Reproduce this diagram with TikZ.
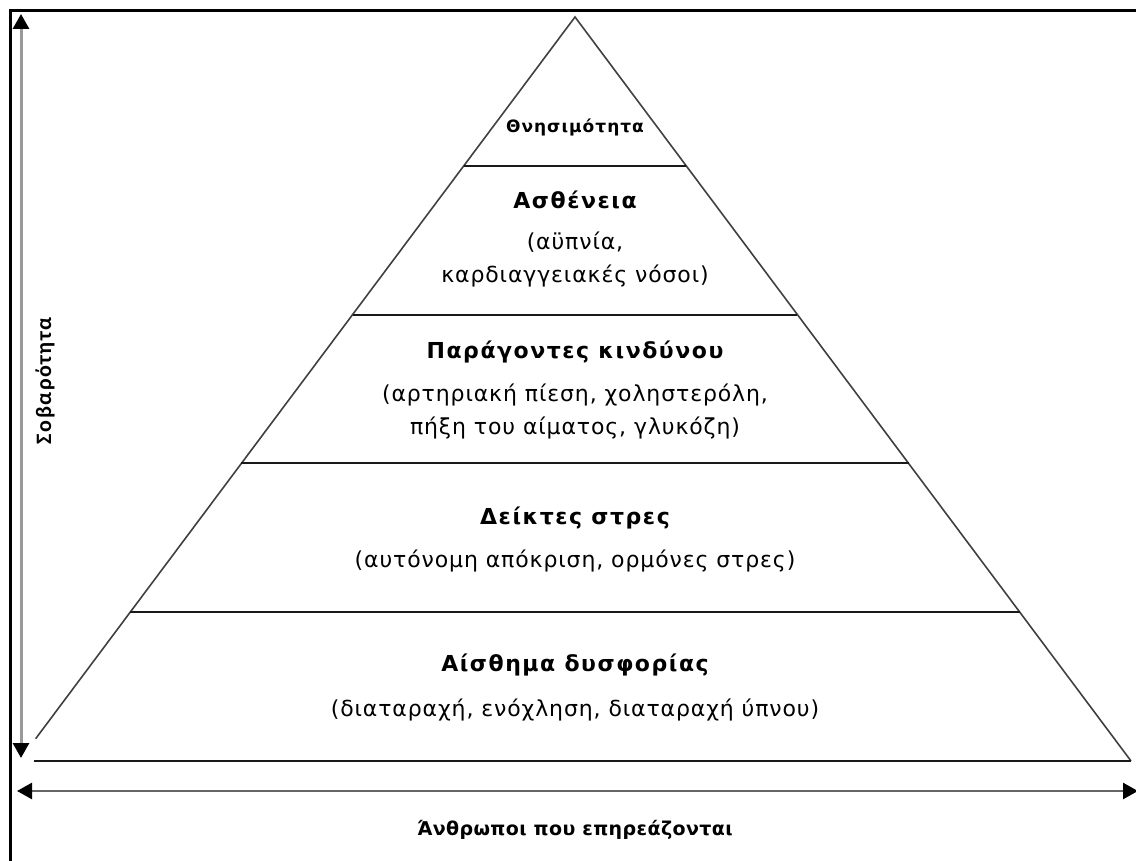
\documentclass[tikz,border=0pt]{standalone}
\usepackage{fontspec}
\setmainfont{DejaVu Sans}
\newfontfamily\axisfont{Carlito}
\usetikzlibrary{arrows.meta,calc}

\begin{document}
\begin{tikzpicture}[x=1pt, y=-1pt,
    tri/.style={line width=1.6pt, black!75},
    layer/.style={line width=2pt, black!90},
    head/.style={font=\fontsize{22}{26}\selectfont\bfseries\addfontfeature{LetterSpace=7}},
    detail/.style={font=\fontsize{22}{33}\selectfont\addfontfeature{LetterSpace=4}, align=center},
    axis/.style={line width=3pt, gray!80,
        {Triangle[length=15pt,width=16pt,color=black]}-{Triangle[length=15pt,width=16pt,color=black]}}]
    \useasboundingbox (0,0) rectangle (1136,861);

    % frame, cut on the right and at the bottom
    \draw[line width=3pt] (10,861) -- (10,11) -- (1136,11);

    % pyramid
    \coordinate (apex) at (575,17);
    \coordinate (bl) at (19,761);
    \coordinate (br) at (1131,761);
    \coordinate (blvis) at ($(apex)!0.97!(bl)$);
    \draw[tri] (blvis) -- (apex) -- (br);
    \draw[layer] (br) -- (34,761);

    \foreach \t in {0.2,0.4,0.6,0.8} {
        \draw[layer] ($(apex)!\t!(bl)$) -- ($(apex)!\t!(br)$);
    }

    % levels
    \node[font=\fontsize{17}{20}\selectfont\bfseries\addfontfeature{LetterSpace=6}] (mort) at (575,127) {Θνησιμότητα};

    \node[head] (ill) at (575,200) {Ασθένεια};
    \node[detail] (illd) at (575,260) {(αϋπνία,\\καρδιαγγειακές νόσοι)};

    \node[head] (risk) at (575,352) {Παράγοντες κινδύνου};
    \node[detail] (riskd) at (575,412) {(αρτηριακή πίεση, χοληστερόλη,\\πήξη του αίματος, γλυκόζη)};

    \node[head] (stress) at (575,518) {Δείκτες στρες};
    \node[detail] (stressd) at (575,561) {(αυτόνομη απόκριση, ορμόνες στρες)};

    \node[head] (disc) at (575,665) {Αίσθημα δυσφορίας};
    \node[detail] (discd) at (575,710) {(διαταραχή, ενόχληση, διαταραχή ύπνου)};

    % axes
    \coordinate (vtop) at (21,14);
    \coordinate (vbot) at (21,758);
    \draw[axis] (vtop) -- (vbot);
    \node[rotate=90, font=\axisfont\fontsize{22}{26}\selectfont\bfseries\addfontfeature{LetterSpace=7}] (sev) at (45,381) {Σοβαρότητα};

    \coordinate (hleft) at (17,791);
    \coordinate (hright) at (1138,791);
    \draw[axis, line width=2.5pt, black!60] (hleft) -- (hright);
    \node[font=\fontsize{19}{22}\selectfont\bfseries\addfontfeature{LetterSpace=2}] (people) at (575,830) {Άνθρωποι που επηρεάζονται};
\end{tikzpicture}
\end{document}
